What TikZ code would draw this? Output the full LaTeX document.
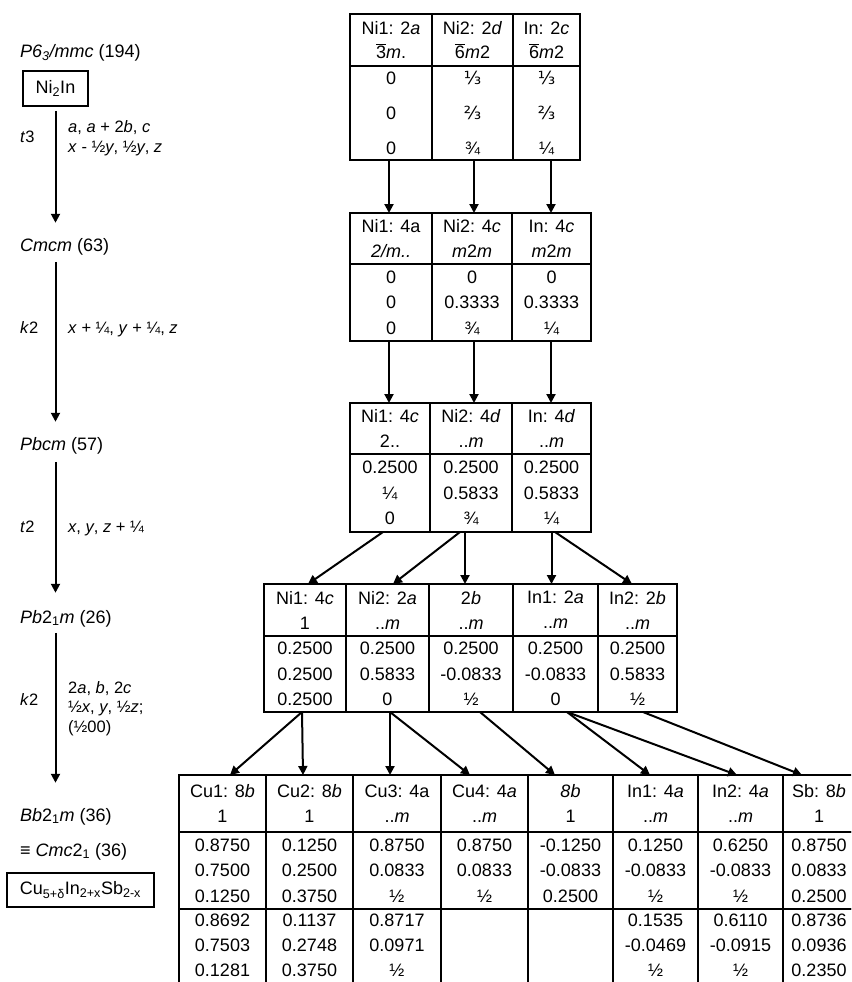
\documentclass[tikz,border=0pt]{standalone}
\usepackage{fontspec}
\setmainfont{Liberation Sans}
\newfontfamily\fracf{DejaVu Sans}
\usetikzlibrary{arrows.meta}
\newcommand\ob[1]{\ensuremath{\overline{\mbox{#1}}}}
\newcommand\thd{{\fracf ⅓}}
\newcommand\ttd{{\fracf ⅔}}
\newcommand\tcell[7]{\node[cellbox,#7,minimum width=#4pt,minimum height=#5pt] (#1) at (#2,#3) {#6};}
\newcommand\lastrow[3]{#1\\#2\\#3\\[-17pt]\mbox{}}
\tikzset{
  cellbox/.style={draw, line width=1.5pt, anchor=north west, inner sep=0pt, outer sep=0pt, align=center},
  hdA/.style={font=\fontsize{18}{24}\selectfont},
  dtA/.style={font=\fontsize{18}{35}\selectfont},
  hd/.style={font=\fontsize{18}{25}\selectfont},
  dt/.style={font=\fontsize{18}{25.5}\selectfont},
  dtB/.style={font=\fontsize{18}{25}\selectfont},
  arr/.style={line width=2pt, -{Triangle[length=9pt,width=9pt]}},
  lab/.style={anchor=base west, inner sep=0pt, font=\fontsize{18}{22}\selectfont},
  tr/.style={anchor=base west, inner sep=0pt, font=\fontsize{16.5}{20}\selectfont},
  fbox/.style={draw, line width=1.5pt, inner sep=0pt, font=\fontsize{18}{22}\selectfont}
}
\begin{document}
\begin{tikzpicture}[x=1pt,y=-1pt]
\useasboundingbox (0,0) rectangle (851,982);
\clip (0,0) rectangle (851,982);
\fill[white] (0,0) rectangle (851,982);
% ---------------- left column
\node[lab] (sg1) at (20,58) {\textit{P6\textsubscript{3}/mmc} (194)};
\node[fbox, minimum width=65pt, minimum height=35pt] (b1) at (55.5,88.5) {Ni\textsubscript{2}In};
\node[tr] (k1) at (20,142) {\textit{t}3};
\node[tr] (tr1a) at (68,132) {\textit{a}, \textit{a} + 2\textit{b}, \textit{c}};
\node[tr] (tr1b) at (68,152) {\textit{x} - ½\textit{y}, ½\textit{y}, \textit{z}};
\node[lab] (sg2) at (20,251) {\textit{Cmcm} (63)};
\node[tr] (k2) at (20,333) {\textit{k}2};
\node[tr] (tr2) at (68,333) {\textit{x} + ¼, \textit{y} + ¼, \textit{z}};
\node[lab] (sg3) at (20,450) {\textit{Pbcm} (57)};
\node[tr] (k3) at (20,532) {\textit{t}2};
\node[tr] (tr3) at (68,532) {\textit{x}, \textit{y}, \textit{z} + ¼};
\node[lab] (sg4) at (20,623) {\textit{Pb}2\textsubscript{1}\textit{m} (26)};
\node[tr] (k4) at (20,705) {\textit{k}2};
\node[tr] (tr4a) at (68,693) {2\textit{a}, \textit{b}, 2\textit{c}};
\node[tr] (tr4b) at (68,712) {½\textit{x}, \textit{y}, ½\textit{z};};
\node[tr] (tr4c) at (68,732) {(½00)};
\node[lab] (sg5) at (20,821) {\textit{Bb}2\textsubscript{1}\textit{m} (36)};
\node[lab] (sg6) at (20,856) {≡ \textit{Cmc}2\textsubscript{1} (36)};
\node[fbox, minimum width=147pt, minimum height=34pt] (b2) at (80.5,890) {Cu\textsubscript{5+δ}In\textsubscript{2+x}Sb\textsubscript{2-x}};
\draw[arr, shorten <=4pt, shorten >=15pt] (b1.south) -- (sg2.north -| b1.south);
\draw[arr, shorten <=7pt, shorten >=15pt] (sg2.south -| b1.south) -- (sg3.north -| b1.south);
\draw[arr, shorten <=8pt, shorten >=17pt] (sg3.south -| b1.south) -- (sg4.north -| b1.south);
\draw[arr, shorten <=6pt, shorten >=25pt] (sg4.south -| b1.south) -- (sg5.north -| b1.south);
% ---------------- table 1
\tcell{t1h1}{350}{14}{82}{52}{Ni1: 2\textit{a}\\\ob{3}\textit{m}.}{hdA}
\tcell{t1h2}{432}{14}{81}{52}{Ni2: 2\textit{d}\\\ob{6}\textit{m}2}{hdA}
\tcell{t1h3}{513}{14}{67}{52}{In: 2\textit{c}\\\ob{6}\textit{m}2}{hdA}
\tcell{t1d1}{350}{66}{82}{94}{0\\0\\0}{dtA}
\tcell{t1d2}{432}{66}{81}{94}{\thd\\\ttd\\¾}{dtA}
\tcell{t1d3}{513}{66}{67}{94}{\thd\\\ttd\\¼}{dtA}
% ---------------- table 2
\tcell{t2h1}{350}{213}{82}{51}{Ni1: 4a\\\textit{2/m..}}{hd}
\tcell{t2h2}{432}{213}{80}{51}{Ni2: 4\textit{c}\\\textit{m}2\textit{m}}{hd}
\tcell{t2h3}{512}{213}{79}{51}{In: 4\textit{c}\\\textit{m}2\textit{m}}{hd}
\tcell{t2d1}{350}{264}{82}{77}{0\\0\\0}{dt}
\tcell{t2d2}{432}{264}{80}{77}{0\\0.3333\\¾}{dt}
\tcell{t2d3}{512}{264}{79}{77}{0\\0.3333\\¼}{dt}
% ---------------- table 3
\tcell{t3h1}{350}{403}{80}{51}{Ni1: 4\textit{c}\\2..}{hd}
\tcell{t3h2}{430}{403}{82}{51}{Ni2: 4\textit{d}\\..\textit{m}}{hd}
\tcell{t3h3}{512}{403}{79}{51}{In: 4\textit{d}\\..\textit{m}}{hd}
\tcell{t3d1}{350}{454}{80}{78}{0.2500\\¼\\0}{dt}
\tcell{t3d2}{430}{454}{82}{78}{0.2500\\0.5833\\¾}{dt}
\tcell{t3d3}{512}{454}{79}{78}{0.2500\\0.5833\\¼}{dt}
% ---------------- table 4
\tcell{t4h1}{264}{584}{82}{52}{Ni1: 4\textit{c}\\1}{hd}
\tcell{t4h2}{346}{584}{83}{52}{Ni2: 2\textit{a}\\..\textit{m}}{hd}
\tcell{t4h3}{429}{584}{84}{52}{2\textit{b}\\..\textit{m}}{hd}
\tcell{t4h4}{513}{584}{85}{52}{In1: 2\textit{a}\\..\textit{m}}{hd}
\tcell{t4h5}{598}{584}{79}{52}{In2: 2\textit{b}\\..\textit{m}}{hd}
\tcell{t4d1}{264}{636}{82}{76}{0.2500\\0.2500\\0.2500}{dt}
\tcell{t4d2}{346}{636}{83}{76}{0.2500\\0.5833\\0}{dt}
\tcell{t4d3}{429}{636}{84}{76}{0.2500\\-0.0833\\½}{dt}
\tcell{t4d4}{513}{636}{85}{76}{0.2500\\-0.0833\\0}{dt}
\tcell{t4d5}{598}{636}{79}{76}{0.2500\\0.5833\\½}{dt}
% ---------------- table 5
\tcell{t5h1}{179}{775}{87}{57}{Cu1: 8\textit{b}\\1}{hd}
\tcell{t5h2}{266}{775}{87}{57}{Cu2: 8\textit{b}\\1}{hd}
\tcell{t5h3}{353}{775}{88}{57}{Cu3: 4a\\..\textit{m}}{hd}
\tcell{t5h4}{441}{775}{87}{57}{Cu4: 4\textit{a}\\..\textit{m}}{hd}
\tcell{t5h5}{528}{775}{85}{57}{\textit{8b}\\1}{hd}
\tcell{t5h6}{613}{775}{85}{57}{In1: 4\textit{a}\\..\textit{m}}{hd}
\tcell{t5h7}{698}{775}{85}{57}{In2: 4\textit{a}\\..\textit{m}}{hd}
\tcell{t5h8}{783}{775}{72}{57}{Sb: 8\textit{b}\\1}{hd}
\tcell{t5d1}{179}{832}{87}{77}{0.8750\\0.7500\\0.1250}{dt}
\tcell{t5d2}{266}{832}{87}{77}{0.1250\\0.2500\\0.3750}{dt}
\tcell{t5d3}{353}{832}{88}{77}{0.8750\\0.0833\\½}{dt}
\tcell{t5d4}{441}{832}{87}{77}{0.8750\\0.0833\\½}{dt}
\tcell{t5d5}{528}{832}{85}{77}{-0.1250\\-0.0833\\0.2500}{dt}
\tcell{t5d6}{613}{832}{85}{77}{0.1250\\-0.0833\\½}{dt}
\tcell{t5d7}{698}{832}{85}{77}{0.6250\\-0.0833\\½}{dt}
\tcell{t5d8}{783}{832}{72}{77}{0.8750\\0.0833\\0.2500}{dt}
\tcell{t5e1}{179}{909}{87}{80}{\lastrow{0.8692}{0.7503}{0.1281}}{dtB}
\tcell{t5e2}{266}{909}{87}{80}{\lastrow{0.1137}{0.2748}{0.3750}}{dtB}
\tcell{t5e3}{353}{909}{88}{80}{\lastrow{0.8717}{0.0971}{½}}{dtB}
\tcell{t5e4}{441}{909}{87}{80}{}{dtB}
\tcell{t5e5}{528}{909}{85}{80}{}{dtB}
\tcell{t5e6}{613}{909}{85}{80}{\lastrow{0.1535}{-0.0469}{½}}{dtB}
\tcell{t5e7}{698}{909}{85}{80}{\lastrow{0.6110}{-0.0915}{½}}{dtB}
\tcell{t5e8}{783}{909}{72}{80}{\lastrow{0.8736}{0.0936}{0.2350}}{dtB}
% ---------------- arrows between tables
\draw[arr] ([xshift=-2pt]t1d1.south) -- ([xshift=-2pt]t2h1.north);
\draw[arr] ([xshift=1.5pt]t1d2.south) -- ([xshift=2pt]t2h2.north);
\draw[arr] ([xshift=4.5pt]t1d3.south) -- ([xshift=-0.5pt]t2h3.north);
\draw[arr] ([xshift=-2pt]t2d1.south) -- ([xshift=-1pt]t3h1.north);
\draw[arr] ([xshift=2pt]t2d2.south) -- ([xshift=3pt]t3h2.north);
\draw[arr] ([xshift=-0.5pt]t2d3.south) -- ([xshift=-0.5pt]t3h3.north);
\draw[arr] ([xshift=-7pt]t3d1.south) -- ([xshift=3pt]t4h1.north);
\draw[arr] ([xshift=-11pt]t3d2.south) -- ([xshift=5.5pt]t4h2.north);
\draw[arr] ([xshift=-6pt]t3d2.south) -- ([xshift=-6pt]t4h3.north);
\draw[arr] (t3d3.south) -- ([xshift=-4pt]t4h4.north);
\draw[arr] ([xshift=3.5pt]t3d3.south) -- ([xshift=-5.5pt]t4h5.north);
\draw[arr] ([xshift=-3pt]t4d1.south) -- ([xshift=7.5pt]t5h1.north);
\draw[arr] ([xshift=-3pt]t4d1.south) -- ([xshift=-6.5pt]t5h2.north);
\draw[arr] ([xshift=2.5pt]t4d2.south) -- ([xshift=-7pt]t5h3.north);
\draw[arr] ([xshift=2.5pt]t4d2.south) -- ([xshift=-14.5pt]t5h4.north);
\draw[arr] ([xshift=9pt]t4d3.south) -- ([xshift=-15.5pt]t5h5.north);
\draw[arr] ([xshift=11.5pt]t4d4.south) -- ([xshift=-5.5pt]t5h6.north);
\draw[arr] ([xshift=11.5pt]t4d4.south) -- ([xshift=-3.5pt]t5h7.north);
\draw[arr] ([xshift=5.5pt]t4d5.south) -- ([xshift=-17pt]t5h8.north);
\end{tikzpicture}
\end{document}
